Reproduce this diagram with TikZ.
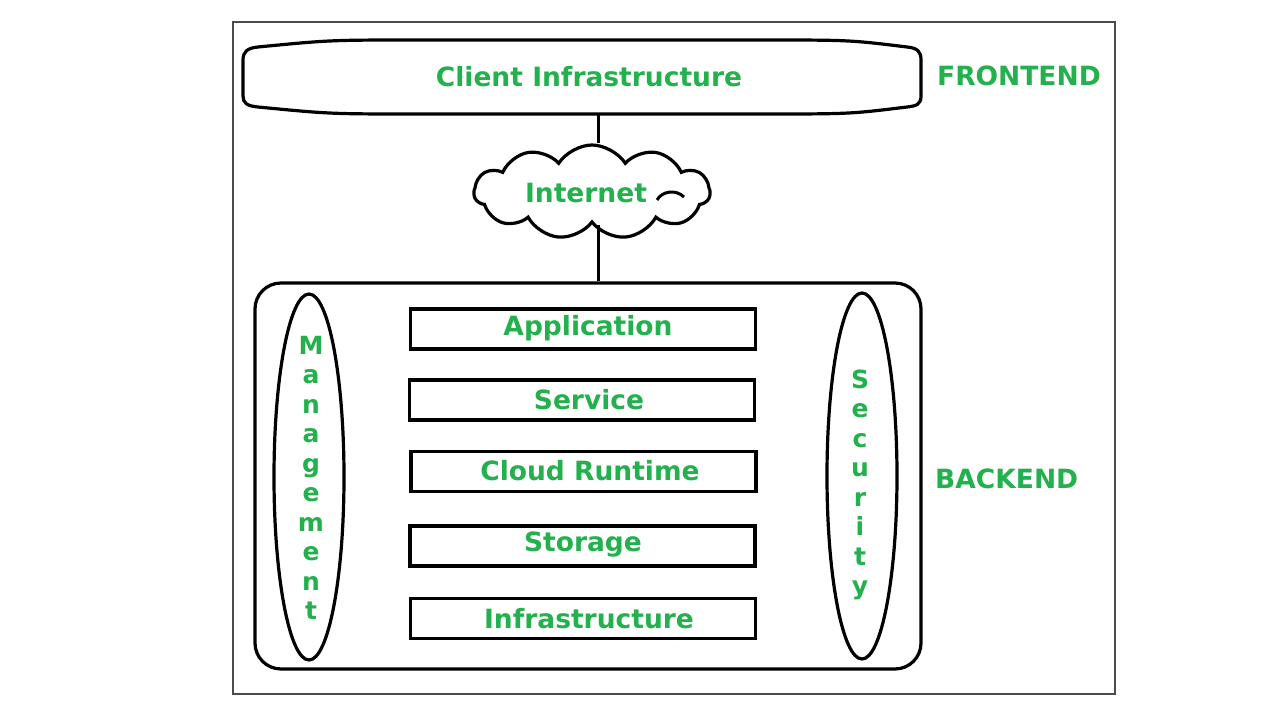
\documentclass[tikz,border=0pt]{standalone}
\usepackage{fontspec}
\setmainfont{DejaVu Sans}
\usetikzlibrary{shapes.geometric,shapes.symbols}
\definecolor{pgreen}{HTML}{22B14C}
\begin{document}
\begin{tikzpicture}[x=1pt,y=-1pt,
  lbl/.style={text=pgreen,font=\bfseries\fontsize{26.5}{30}\selectfont,inner sep=0pt},
  vlbl/.style={text=pgreen,font=\bfseries\fontsize{25}{29.5}\selectfont,align=center,inner sep=0pt},
  thick line/.style={line width=3.2pt,black},
  layer/.style={thick line,draw,rectangle,minimum width=345pt,minimum height=40pt,inner sep=0pt},
  side/.style={thick line,draw,ellipse,minimum width=70pt,minimum height=366pt,inner sep=0pt},
  conn/.style={line width=3pt,black}]
\useasboundingbox (0,0) rectangle (1280,720);
\fill[white] (0,0) rectangle (1280,720);
% outer frame
\draw[line width=1.3pt,black!70] (233,22) rectangle (1115,694);
% client infrastructure
\node[minimum width=678pt,minimum height=74pt,inner sep=0pt] (client) at (582,77) {};
\node[lbl] (clienttext) at (589,77) {Client Infrastructure};
\draw[thick line] (258,47) .. controls (330,40) .. (420,40) -- (760,40)
  .. controls (850,40) .. (907,47) .. controls (918,48) and (921,52) .. (921,60)
  -- (921,96) .. controls (921,104) and (917,106) .. (907,107)
  .. controls (850,114) .. (760,114) -- (420,114) .. controls (330,114) .. (258,107)
  .. controls (247,106) and (243,103) .. (243,96) -- (243,60)
  .. controls (243,52) and (247,48) .. (258,47) -- cycle;
\node[lbl,anchor=west] (frontend) at (937,76) {FRONTEND};
% internet cloud
\node[cloud,draw,thick line,cloud puffs=11,cloud puff arc=115,aspect=2.4,
  minimum width=236pt,minimum height=94pt,inner sep=0pt,fill=white] (internet) at (592,192) {};
\node[lbl] (internettext) at (586,193) {Internet};
\draw[line width=3pt] (657,200) .. controls (662,191) and (676,189) .. (684,197);
% backend
\node[draw,thick line,rounded corners=26pt,minimum width=666pt,minimum height=386pt,inner sep=0pt] (backend) at (588,476) {};
\node[lbl,anchor=west] (backendlbl) at (935,479) {BACKEND};
\coordinate (trunk) at (598,0);
\draw[conn] (client.south -| trunk) -- (internet.north -| trunk);
\draw[conn] (internet.south -| trunk) -- (backend.north -| trunk);
% layers
\node[layer] (app) at (583,329) {};
\node[lbl] (apptext) at (588,328) {Application};
\node[layer] (svc) at (582,400) {};
\node[lbl] (svctext) at (589,400) {Service};
\node[layer] (rt) at (583.5,471.5) {};
\node[lbl] (rttext) at (590,471) {Cloud Runtime};
\node[layer] (sto) at (582.5,546) {};
\node[lbl] (stotext) at (583,545) {Storage};
\node[layer] (inf) at (583,618.5) {};
\node[lbl] (inftext) at (589,619) {Infrastructure};
% side ellipses
\node[side] (mgmt) at (309,477) {};
\node[vlbl] (mgmttext) at (311,478) {M\\a\\n\\a\\g\\e\\m\\e\\n\\t};
\node[side] (sec) at (862,476) {};
\node[vlbl] (sectext) at (860,485) {S\\e\\c\\u\\r\\i\\t\\y};
\end{tikzpicture}
\end{document}
